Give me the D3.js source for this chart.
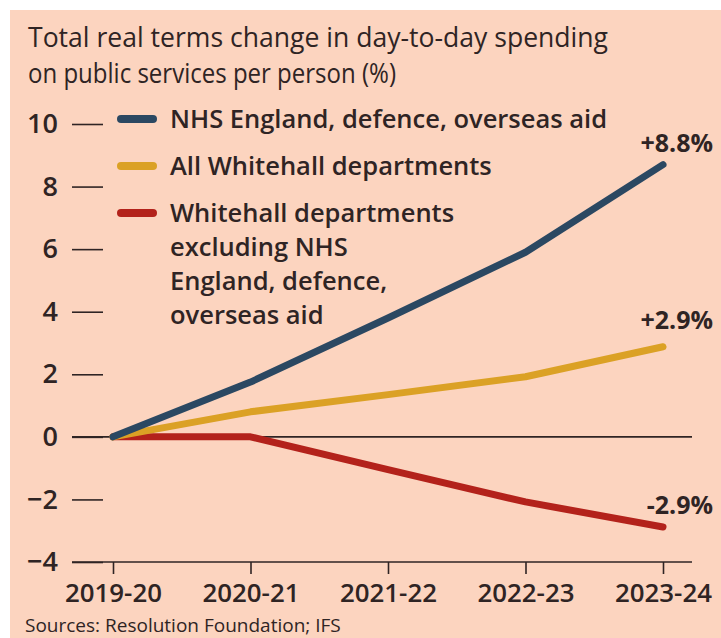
<!DOCTYPE html>
<html>
<head>
<meta charset="utf-8">
<script src="https://cdn.jsdelivr.net/npm/d3@7"></script>
<style>
  body { margin: 0; background: #ffffff; }
  svg text { font-family: "Open Sans", Roboto, sans-serif; fill: #2f2424; }
</style>
</head>
<body>
<div id="chart"></div>
<script>
let w = 721;
let h = 638;

// data
const years = ["2019-20", "2020-21", "2021-22", "2022-23", "2023-24"];
const nhsDefenceAid = [0, 1.75, 3.8, 5.9, 8.7];
const allWhitehall = [0, 0.8, 1.35, 1.92, 2.88];
const excludingNhs = [0, 0, -1.05, -2.08, -2.88];
const yTicks = [-4, -2, 0, 2, 4, 6, 8, 10];
const endLabels = ["+8.8%", "+2.9%", "-2.9%"];
const seriesNames = [
  ["NHS England, defence, overseas aid"],
  ["All Whitehall departments"],
  ["Whitehall departments", "excluding NHS", "England, defence,", "overseas aid"]
];
const titleLines = ["Total real terms change in day-to-day spending", "on public services per person (%)"];
const source = "Sources: Resolution Foundation; IFS";

const colors = ["#2b4862", "#dba125", "#b3221b"];

let svg = d3.select("#chart").append("svg")
  .attr("width", w)
  .attr("height", h);

// peach panel, white strip at top and left
svg.append("rect")
  .attr("x", 10).attr("y", 10)
  .attr("width", w - 10).attr("height", h - 10)
  .attr("fill", "#fcd4bf");

let x = d3.scalePoint().domain(years).range([113, 663]);
let y = d3.scaleLinear().domain([-4, 10]).range([562, 124]);

// title
svg.selectAll(".title").data(titleLines).enter().append("text")
  .attr("class", "title")
  .attr("x", 28)
  .attr("y", (d, i) => 47 + i * 36)
  .attr("font-size", "28px")
  .attr("textLength", (d, i) => i == 0 ? 580 : 368)
  .attr("lengthAdjust", "spacingAndGlyphs")
  .text(d => d);

// y axis: short dashes with labels
let yAxis = svg.append("g")
  .attr("transform", "translate(103,0)")
  .call(d3.axisLeft(y).tickValues(yTicks).tickSize(31).tickPadding(14));
yAxis.select(".domain").remove();
yAxis.selectAll("line").attr("stroke", "#2f2424").attr("stroke-width", 1.6);
yAxis.selectAll("text")
  .attr("font-size", "27px")
  .attr("font-weight", 600)
  .attr("fill", "#2f2424")
  .attr("font-family", "Open Sans");

// zero line
svg.append("line")
  .attr("x1", 72).attr("x2", 692)
  .attr("y1", y(0)).attr("y2", y(0))
  .attr("stroke", "#2f2424").attr("stroke-width", 1.6);

// x axis
let xAxis = svg.append("g")
  .attr("transform", `translate(0,${y(-4)})`)
  .call(d3.axisBottom(x).tickSize(12).tickPadding(10));
xAxis.select(".domain").remove();
xAxis.append("line")
  .attr("x1", 72).attr("x2", 692)
  .attr("stroke", "#2f2424").attr("stroke-width", 1.6);
xAxis.selectAll(".tick line").attr("stroke", "#2f2424").attr("stroke-width", 1.6);
xAxis.selectAll("text")
  .attr("font-size", "26px")
  .attr("font-weight", 600)
  .attr("fill", "#2f2424")
  .attr("font-family", "Open Sans")
  .attr("textLength", 97)
  .attr("lengthAdjust", "spacingAndGlyphs");

// lines
let line = d3.line()
  .x((d, i) => x(years[i]))
  .y(d => y(d));

let allSeries = [excludingNhs, allWhitehall, nhsDefenceAid];
let lineColors = [colors[2], colors[1], colors[0]];

svg.selectAll(".series").data(allSeries).enter().append("path")
  .attr("class", "series")
  .attr("d", line)
  .attr("fill", "none")
  .attr("stroke", (d, i) => lineColors[i])
  .attr("stroke-width", 7)
  .attr("stroke-linecap", "round")
  .attr("stroke-linejoin", "round");

// end labels
let ends = [nhsDefenceAid, allWhitehall, excludingNhs];
let endOffsets = [-13, -18, -13];
svg.selectAll(".endlabel").data(endLabels).enter().append("text")
  .attr("class", "endlabel")
  .attr("x", 713)
  .attr("y", (d, i) => y(ends[i][4]) + endOffsets[i])
  .attr("text-anchor", "end")
  .attr("font-size", "25px")
  .attr("font-weight", 700)
  .text(d => d);

// legend
let legendRows = [119, 166, 213];
let legend = svg.selectAll(".legend").data(seriesNames).enter().append("g")
  .attr("class", "legend")
  .attr("transform", (d, i) => `translate(0,${legendRows[i]})`);

legend.append("line")
  .attr("x1", 121).attr("x2", 153)
  .attr("y1", 0).attr("y2", 0)
  .attr("stroke", (d, i) => colors[i])
  .attr("stroke-width", 8)
  .attr("stroke-linecap", "round");

legend.selectAll("text").data(d => d).enter().append("text")
  .attr("x", 170)
  .attr("y", (d, i) => i * 34)
  .attr("dy", "0.35em")
  .attr("font-size", "25.5px")
  .attr("font-weight", 600)
  .text(d => d);

// source
svg.append("text")
  .attr("x", 25)
  .attr("y", 632)
  .attr("font-size", "19px")
  .text(source);
</script>
</body>
</html>
